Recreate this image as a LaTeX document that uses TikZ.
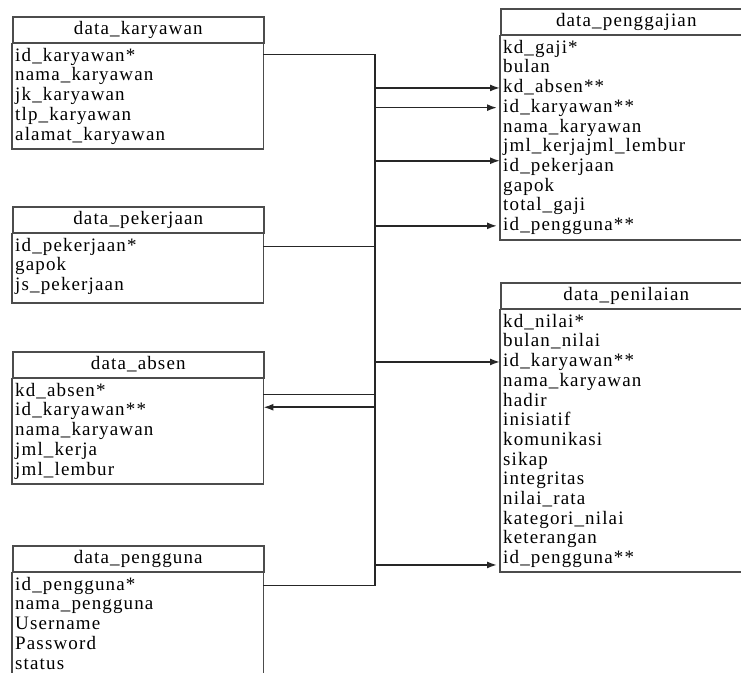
\documentclass[tikz,border=0pt]{standalone}
\usepackage{fontspec}
\setmainfont{Liberation Serif}[LetterSpace=6]
\usetikzlibrary{calc}
\usetikzlibrary{arrows.meta}

\begin{document}
\begin{tikzpicture}[x=1pt,y=-1pt]
			\tikzset{every node/.style={font=\fontsize{19}{19.7}\selectfont}}
			\tikzset{tblhead/.style={draw=black!70,line width=1.5pt,anchor=north west,minimum width=251pt,minimum height=26pt,inner sep=0pt,text height=14.5pt,text depth=5.2pt}}
			\tikzset{tblrow/.style={anchor=north west,text width=245pt,align=left,inner xsep=3pt,inner ysep=0pt,minimum height=19.7pt,text height=14.5pt,text depth=5.2pt}}
			\tikzset{tblbody/.style={draw=black!70,line width=1.5pt}}
			\tikzset{link/.style={draw=black!85,line width=1.6pt}}
			\tikzset{fk/.style={link,-{Latex[length=10pt,width=7pt]}}}
			\useasboundingbox (0,0) rectangle (741,672);
			\clip (0,0) rectangle (741,672);
			% Place tables
			\node[tblhead] (kar) at (12,16) {data\_karyawan};
			\foreach \f [count=\i] in {id\_karyawan*,nama\_karyawan,jk\_karyawan,tlp\_karyawan,alamat\_karyawan}
				\node[tblrow] (kar\i) at ($(kar.south west)+(0,{3+(\i-1)*19.7})$) {\f};
			\draw[tblbody] (kar.south west) rectangle ($(kar5.south east)+(0,3.5)$);
			\node[tblhead] (pek) at (12,206) {data\_pekerjaan};
			\foreach \f [count=\i] in {id\_pekerjaan*,gapok,js\_pekerjaan}
				\node[tblrow] (pek\i) at ($(pek.south west)+(0,{3+(\i-1)*19.7})$) {\f};
			\draw[tblbody] (pek.south west) rectangle ($(pek3.south east)+(0,7)$);
			\node[tblhead] (abs) at (12,351) {data\_absen};
			\foreach \f [count=\i] in {kd\_absen*,id\_karyawan**,nama\_karyawan,jml\_kerja,jml\_lembur}
				\node[tblrow] (abs\i) at ($(abs.south west)+(0,{3+(\i-1)*19.7})$) {\f};
			\draw[tblbody] (abs.south west) rectangle ($(abs5.south east)+(0,3.5)$);
			\node[tblhead] (png) at (12,545) {data\_pengguna};
			\foreach \f [count=\i] in {id\_pengguna*,nama\_pengguna,Username,Password,status}
				\node[tblrow] (png\i) at ($(png.south west)+(0,{3+(\i-1)*19.7})$) {\f};
			\draw[tblbody] (png.south west) rectangle ($(png5.south east)+(0,3.5)$);
			\node[tblhead] (gaj) at (500,8) {data\_penggajian};
			\foreach \f [count=\i] in {kd\_gaji*,bulan,kd\_absen**,id\_karyawan**,nama\_karyawan,jml\_kerjajml\_lembur,id\_pekerjaan,gapok,total\_gaji,id\_pengguna**}
				\node[tblrow] (gaj\i) at ($(gaj.south west)+(0,{3+(\i-1)*19.7})$) {\f};
			\draw[tblbody] (gaj.south west) rectangle ($(gaj10.south east)+(0,4)$);
			\node[tblhead] (nil) at (500,282) {data\_penilaian};
			\foreach \f [count=\i] in {kd\_nilai*,bulan\_nilai,id\_karyawan**,nama\_karyawan,hadir,inisiatif,komunikasi,sikap,integritas,nilai\_rata,kategori\_nilai,keterangan,id\_pengguna**}
				\node[tblrow] (nil\i) at ($(nil.south west)+(0,{3+(\i-1)*19.7})$) {\f};
			\draw[tblbody] (nil.south west) rectangle ($(nil13.south east)+(0,3)$);
			% Shared trunk
			\coordinate (trunk) at (375,0);
			\draw[link] ([yshift=2pt]kar1.east) -- ([yshift=2pt]kar1.east -| trunk) -- (png1.east -| trunk) -- (png1.east);
			\draw[link] (pek1.east) -- (pek1.east -| trunk);
			\draw[link] ([yshift=-3pt]abs1.east) -- ([yshift=-3pt]abs1.east -| trunk);
			% Foreign keys
			\draw[fk] ([yshift=4pt]abs2.east -| trunk) -- ([yshift=4pt]abs2.east);
			\draw[fk] (gaj3.west -| trunk) -- (gaj3.west);
			\draw[fk] (gaj4.west -| trunk) -- ([xshift=-3pt]gaj4.west);
			\draw[fk] ([yshift=6pt]gaj7.west -| trunk) -- ([yshift=6pt]gaj7.west);
			\draw[fk] (gaj10.west -| trunk) -- ([xshift=-3pt]gaj10.west);
			\draw[fk] (nil3.west -| trunk) -- (nil3.west);
			\draw[fk] ([yshift=-6pt]nil13.west -| trunk) -- ([xshift=-3pt,yshift=-6pt]nil13.west);
\end{tikzpicture}
\end{document}
